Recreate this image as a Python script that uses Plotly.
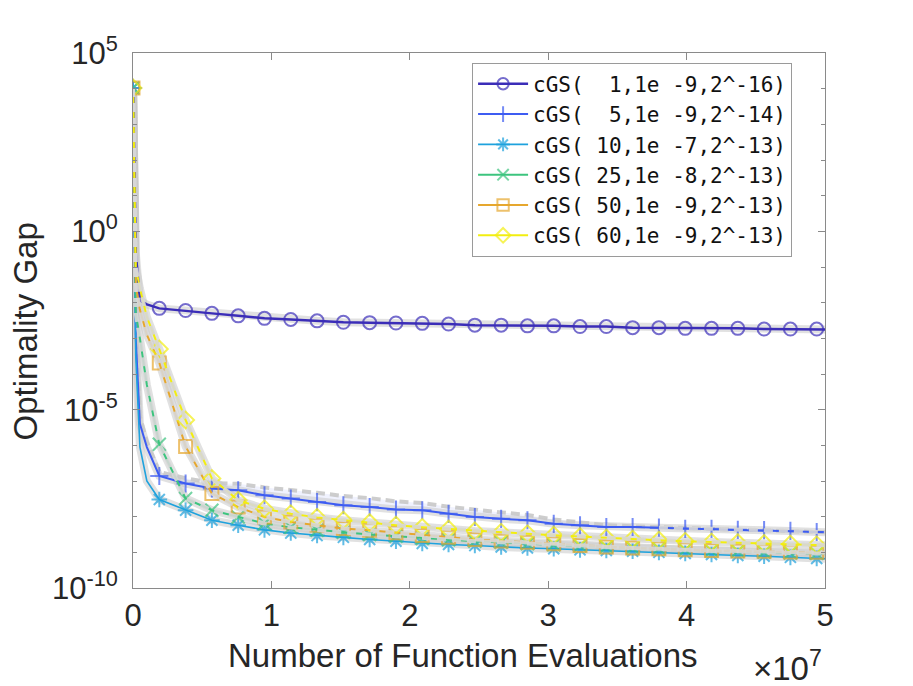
import plotly.graph_objects as go

# function evaluations (x) shared by all runs
evals = [0, 2e5, 5e5, 1e6, 1.9e6, 3.8e6, 5.7e6, 7.6e6, 9.5e6, 11.4e6, 13.3e6, 15.2e6,
         17.1e6, 19.0e6, 20.9e6, 22.8e6, 24.7e6, 26.6e6, 28.5e6, 30.4e6, 32.3e6,
         34.2e6, 36.1e6, 38.0e6, 39.9e6, 41.8e6, 43.7e6, 45.6e6, 47.5e6, 49.4e6, 5.0e7]
# which of the points carry a marker
has_marker = [1, 0, 0, 0] + [1] * 26 + [0]

# log10 of the optimality gap
gap_1 = [4.02, -0.6, -1.94, -2.05, -2.16, -2.22, -2.30, -2.37, -2.44, -2.47, -2.51, -2.55,
         -2.56, -2.57, -2.58, -2.60, -2.63, -2.63, -2.65, -2.65, -2.67, -2.67, -2.70,
         -2.70, -2.72, -2.72, -2.72, -2.74, -2.74, -2.74, -2.75]
gap_5 = [4.02, -3.0, -5.4, -6.05, -6.86, -7.07, -7.21, -7.26, -7.40, -7.49, -7.59, -7.68,
         -7.73, -7.80, -7.82, -7.92, -8.01, -8.06, -8.10, -8.20, -8.24, -8.29, -8.29,
         -8.31, -8.34, -8.34, -8.37, -8.38, -8.40, -8.43, -8.44]
gap_5_upper = [4.02, -2.8, -5.2, -5.9, -6.75, -6.92, -7.06, -7.08, -7.18, -7.25, -7.33,
               -7.42, -7.48, -7.57, -7.62, -7.72, -7.81, -7.88, -7.95, -8.08, -8.16, -8.24,
               -8.27, -8.30, -8.33, -8.34, -8.37, -8.38, -8.40, -8.43, -8.44]
gap_10 = [4.02, -3.5, -6.05, -7.0, -7.52, -7.82, -8.10, -8.24, -8.37, -8.46, -8.53, -8.58,
          -8.64, -8.69, -8.75, -8.78, -8.81, -8.85, -8.88, -8.90, -8.93, -8.95, -8.97,
          -9.00, -9.03, -9.06, -9.09, -9.11, -9.14, -9.17, -9.18]
gap_25 = [4.02, -2.3, -3.0, -4.3, -5.97, -7.49, -7.82, -8.01, -8.19, -8.30, -8.38, -8.44,
          -8.50, -8.55, -8.61, -8.65, -8.69, -8.72, -8.76, -8.79, -8.82, -8.85, -8.88,
          -8.90, -8.93, -8.96, -8.97, -9.00, -9.02, -9.03, -9.04]
gap_50 = [4.02, -1.5, -2.2, -2.9, -3.69, -6.03, -7.35, -7.73, -8.01, -8.15, -8.24, -8.33,
          -8.38, -8.45, -8.53, -8.58, -8.64, -8.68, -8.72, -8.76, -8.81, -8.85, -8.88,
          -8.90, -8.93, -8.95, -8.96, -8.97, -8.99, -9.00, -9.01]
gap_60 = [4.02, -1.0, -1.6, -2.4, -3.30, -5.29, -6.93, -7.54, -7.78, -7.92, -8.02, -8.10,
          -8.17, -8.24, -8.30, -8.35, -8.40, -8.44, -8.48, -8.52, -8.56, -8.60, -8.63,
          -8.66, -8.69, -8.71, -8.73, -8.75, -8.77, -8.79, -8.80]

labels = ["cGS(  1,1e -9,2^-16)", "cGS(  5,1e -9,2^-14)", "cGS( 10,1e -7,2^-13)",
          "cGS( 25,1e -8,2^-13)", "cGS( 50,1e -9,2^-13)", "cGS( 60,1e -9,2^-13)"]
series = [gap_1, gap_5, gap_10, gap_25, gap_50, gap_60]
colors = ["#3b2db8", "#3d5cf2", "#1ea2dd", "#3cc47e", "#e6a72e", "#f2ee10"]
symbols = ["circle-open", "cross-thin", "asterisk", "x-thin", "square-open", "diamond-open"]
widths = [2.5, 2, 1.6, 2, 2, 2]
# index from which the grey dashed spread line lies over the run (None = never)
dash_from = [None, 23, None, 0, 0, 0]


def vals(g):
    return [10 ** v for v in g]


fig = go.Figure()

# light spread band of the 5-sample run (under everything)
fig.add_trace(go.Scatter(x=evals, y=vals(gap_5), mode="lines", line=dict(width=0),
                         showlegend=False, hoverinfo="skip"))
fig.add_trace(go.Scatter(x=evals, y=vals(gap_5_upper), mode="lines",
                         fill="tonexty", fillcolor="rgba(60,92,242,0.08)",
                         line=dict(color="rgba(200,200,200,0.9)", width=4, dash="9px,5px"),
                         showlegend=False, hoverinfo="skip"))

# grey smear behind every run
for g in series:
    fig.add_trace(go.Scatter(x=evals, y=vals(g), mode="lines",
                             line=dict(color="rgba(200,200,200,0.55)", width=8),
                             showlegend=False, hoverinfo="skip"))

for lab, g, c, s, w in zip(labels, series, colors, symbols, widths):
    fig.add_trace(go.Scatter(
        x=evals, y=vals(g), mode="lines+markers", name=lab,
        line=dict(color=c, width=w),
        marker=dict(symbol=s, size=[13 if m else 0 for m in has_marker], color=c,
                    line=dict(color=c, width=2)),
    ))

# grey dashed spread lines drawn over the runs
for g, d in zip(series, dash_from):
    if d is not None:
        fig.add_trace(go.Scatter(x=evals[d:], y=vals(g[d:]), mode="lines",
                                 line=dict(color="rgba(215,215,215,0.9)", width=4,
                                           dash="9px,6px"),
                                 showlegend=False, hoverinfo="skip"))

axis_col = "#8a8a8a"
font_main = "Liberation Sans, Arial, Helvetica, sans-serif"

fig.update_layout(
    width=913, height=686,
    margin=dict(l=125, r=96, t=45, b=106),
    paper_bgcolor="white", plot_bgcolor="white",
    font=dict(family=font_main, size=31, color="#262626"),
    showlegend=True,
    legend=dict(x=0.49, y=0.982, xanchor="left", yanchor="top", traceorder="normal",
                bgcolor="white", bordercolor="#9a9a9a", borderwidth=1,
                font=dict(family="DejaVu Sans Mono, Liberation Mono, monospace", size=21,
                          color="#111111"),
                itemsizing="trace", itemwidth=50, tracegroupgap=0),
    xaxis=dict(range=[0, 5e7], tickvals=[0, 1e7, 2e7, 3e7, 4e7, 5e7],
               ticktext=["0", "1", "2", "3", "4", "5"],
               ticks="inside", ticklen=7, tickcolor=axis_col,
               showline=True, linecolor=axis_col, linewidth=1, mirror="ticks",
               showgrid=False, zeroline=False),
    yaxis=dict(type="log", range=[-10, 5], tickvals=[1e-10, 1e-5, 1, 1e5],
               ticktext=["10<sup>-10</sup>", "10<sup>-5</sup>", "10<sup>0</sup>", "10<sup>5</sup>"],
               ticks="inside", ticklen=7, tickcolor=axis_col, ticklabelstandoff=8,
               minor=dict(tickvals=[1e-9, 1e-8, 1e-7, 1e-6, 1e-4, 1e-3, 1e-2, 1e-1,
                                    1e1, 1e2, 1e3, 1e4],
                          ticks="inside", ticklen=4, tickcolor=axis_col, showgrid=False),
               showline=True, linecolor=axis_col, linewidth=1, mirror="ticks",
               showgrid=False, zeroline=False),
    annotations=[
        dict(text="Number of Function Evaluations", xref="paper", yref="paper",
             x=0.477, y=-0.127, xanchor="center", yanchor="middle", showarrow=False,
             font=dict(size=33)),
        dict(text="\u00d710<sup>7</sup>", xref="paper", yref="paper",
             x=0.893, y=-0.145, xanchor="left", yanchor="middle", showarrow=False,
             font=dict(size=33)),
        dict(text="Optimality Gap", xref="paper", yref="paper", textangle=-90,
             x=-0.155, y=0.479, xanchor="center", yanchor="middle", showarrow=False,
             font=dict(size=33)),
    ],
)

fig.write_html("out.html")
